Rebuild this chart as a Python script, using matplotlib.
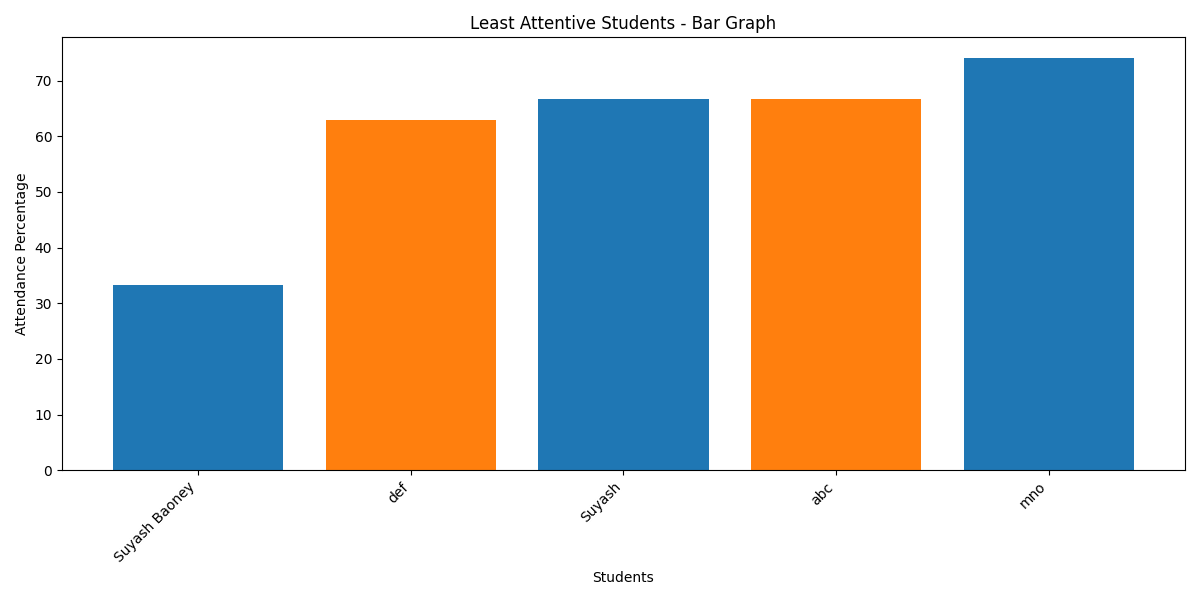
import matplotlib
matplotlib.use("Agg")
import matplotlib.pyplot as plt

students = ["Suyash Baoney", "def", "Suyash", "abc", "mno"]
attendance = [33.33, 62.96, 66.67, 66.67, 74.07]
bar_colors = ["tab:blue", "tab:orange", "tab:blue", "tab:orange", "tab:blue"]

fig, ax = plt.subplots(figsize=(12, 6), dpi=100)
ax.bar(students, attendance, color=bar_colors)
ax.set_title("Least Attentive Students - Bar Graph")
ax.set_xlabel("Students")
ax.set_ylabel("Attendance Percentage")
plt.xticks(rotation=45, ha="right")
fig.tight_layout()
fig.savefig("out.png")
